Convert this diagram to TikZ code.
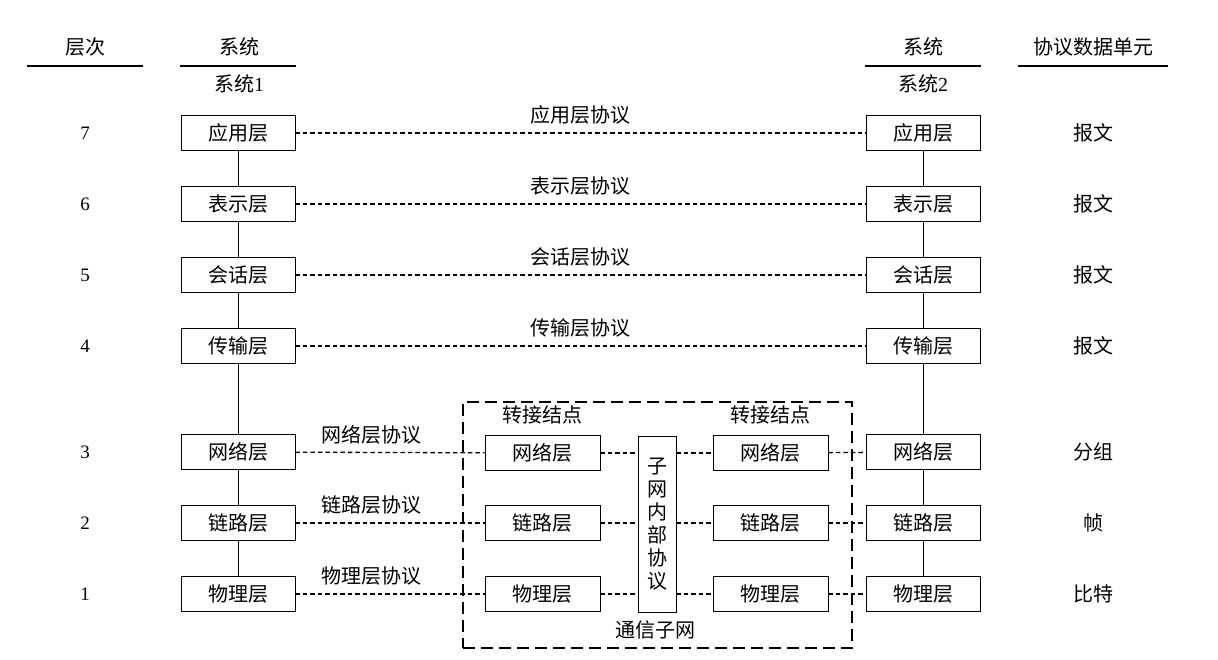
\documentclass[tikz,border=0pt]{standalone}
\usepackage{fontspec}
\newfontfamily\cjk{Noto Sans CJK SC}
\newfontfamily\dig{Liberation Serif}
\begin{document}
\begin{tikzpicture}[x=1pt,y=-1pt,
  every node/.style={font=\cjk\fontsize{20}{23}\selectfont, inner sep=0pt},
  layer/.style={draw, line width=0.9pt, minimum width=114pt, minimum height=35pt},
  hdrline/.style={line width=1.6pt},
  proto/.style={dash pattern=on 4.5pt off 3pt, line width=1.3pt},
  link/.style={line width=0.8pt},
  digit/.style={font=\dig\fontsize{19}{22}\selectfont}]
\useasboundingbox (0,0) rectangle (1218,660);
% headers
\node (hl) at (85,47) {层次};
\node (hs1) at (239,47) {系统};
\node (hs2) at (923,47) {系统};
\node (hp) at (1093,47) {协议数据单元};
\draw[hdrline] (27,66) -- (143,66);
\draw[hdrline] (180,66) -- (296,66);
\draw[hdrline] (865,66) -- (981,66);
\draw[hdrline] (1018,66) -- (1168,66);
\node (sys1) at (239,84) {系统{\dig 1}};
\node (sys2) at (923,84) {系统{\dig 2}};
% levels
\foreach \n/\y/\pdu in {7/133/报文,6/204/报文,5/275/报文,4/346/报文,3/452/分组,2/523/帧,1/594/比特}{
  \node[digit] (n\n) at (85,\y) {\n};
  \node (p\n) at (1093,\y) {\pdu};
}
% system boxes
\foreach \n/\y/\t in {7/133/应用层,6/204/表示层,5/275/会话层,4/346/传输层,3/452/网络层,2/523/链路层,1/594/物理层}{
  \node[layer] (L\n) at (238,\y) {\t};
  \node[layer] (R\n) at (923,\y) {\t};
}
\draw[link] (L7) -- (L6) -- (L5) -- (L4) -- (L3) -- (L2) -- (L1);
\draw[link] (R7) -- (R6) -- (R5) -- (R4) -- (R3) -- (R2) -- (R1);
% upper protocols
\foreach \n/\t in {7/应用层协议,6/表示层协议,5/会话层协议,4/传输层协议}{
  \draw[proto] (L\n) -- node[above=8pt] {\t} (R\n);
}
% subnet
\node[layer, minimum width=115pt] (A3) at (542.5,453) {网络层};
\node[layer, minimum width=115pt] (A2) at (542.5,523) {链路层};
\node[layer, minimum width=115pt] (A1) at (542.5,594) {物理层};
\node[layer, minimum width=115pt] (B3) at (770.5,453) {网络层};
\node[layer, minimum width=115pt] (B2) at (770.5,523) {链路层};
\node[layer, minimum width=115pt] (B1) at (770.5,594) {物理层};
\node[draw, line width=0.9pt, minimum width=38pt, minimum height=176pt, align=center] (M) at (657,524)
  {子\\[0pt]网\\[0pt]内\\[0pt]部\\[0pt]协\\[0pt]议};
\node (t1) at (542,415) {转接结点};
\node (t2) at (770,415) {转接结点};
\node (sn) at (655,630) {通信子网};
\node[draw, line width=2.6pt, dash pattern=on 12pt off 6pt, minimum width=389pt, minimum height=246pt] (box) at (657.5,525) {};
\foreach \n/\t in {3/网络层协议,2/链路层协议,1/物理层协议}{
  \draw[proto] (L\n) -- node[pos=0.4, above=8pt] {\t} (A\n);
  \draw[proto] (A\n.east) -- (A\n.east -| M.west);
  \draw[proto] (B\n.west -| M.east) -- (B\n.west);
  \draw[proto] (B\n) -- (R\n);
}
\end{tikzpicture}
\end{document}
